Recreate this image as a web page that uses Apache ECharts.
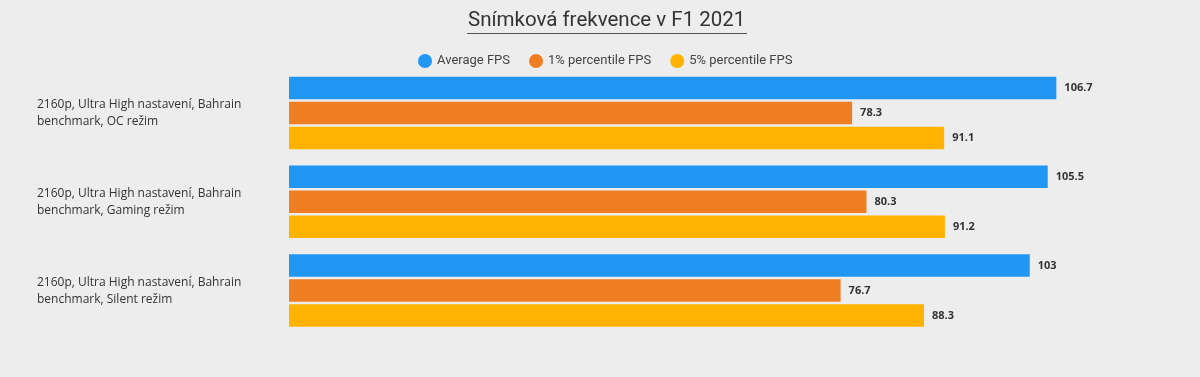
<!DOCTYPE html>
<html>
<head>
<meta charset="utf-8">
<script src="https://cdn.jsdelivr.net/npm/echarts@6/dist/echarts.min.js"></script>
<style>
  html, body { margin: 0; padding: 0; background: #ededed; }
  #chart { width: 1200px; height: 377px; }
</style>
</head>
<body>
<div id="chart"></div>
<script>
// data
let categories = [
  '2160p, Ultra High nastavení, Bahrain benchmark, OC režim',
  '2160p, Ultra High nastavení, Bahrain benchmark, Gaming režim',
  '2160p, Ultra High nastavení, Bahrain benchmark, Silent režim'
];
let avgFps = [106.7, 105.5, 103];
let p1Fps = [78.3, 80.3, 76.7];
let p5Fps = [91.1, 91.2, 88.3];
let seriesNames = ['Average FPS', '1% percentile FPS', '5% percentile FPS'];
let colors = ['#2196f3', '#ef7d22', '#ffb300'];

let chartDom = document.getElementById('chart');
let myChart = echarts.init(chartDom);
let option;

function makeSeries(name, data, color) {
  return {
    name: name,
    type: 'bar',
    data: data,
    barWidth: 22.5,
    barGap: '11%',
    itemStyle: { color: color },
    label: {
      show: true,
      position: 'right',
      distance: 8,
      color: '#333',
      fontWeight: 'bold',
      fontSize: 11,
      fontFamily: 'Open Sans'
    }
  };
}

option = {
  backgroundColor: '#ededed',
  title: {
    text: 'Snímková frekvence v F1 2021',
    left: 463,
    top: 5,
    textStyle: { fontFamily: 'Roboto', fontSize: 20.5, fontWeight: 'normal', color: '#333' }
  },
  graphic: [
    {
      type: 'line',
      shape: { x1: 467, y1: 33.5, x2: 747, y2: 33.5 },
      style: { stroke: '#555', lineWidth: 1 }
    }
  ],
  legend: {
    data: seriesNames,
    top: 49,
    left: 413,
    icon: 'circle',
    itemWidth: 14,
    itemHeight: 14,
    itemGap: 19,
    textStyle: { fontFamily: 'Roboto', fontSize: 13, color: '#444' }
  },
  grid: { left: 289, right: 48, top: 68.5, bottom: 42 },
  xAxis: {
    type: 'value',
    min: 0,
    max: 120,
    show: false
  },
  yAxis: {
    type: 'category',
    data: categories,
    inverse: true,
    axisLine: { show: false },
    axisTick: { show: false },
    axisLabel: {
      align: 'left',
      margin: 252,
      color: '#333',
      fontSize: 12,
      lineHeight: 17,
      fontFamily: 'Open Sans',
      formatter: function (v) { return v.replace('Bahrain ', 'Bahrain\n'); }
    }
  },
  series: [
    makeSeries(seriesNames[0], avgFps, colors[0]),
    makeSeries(seriesNames[1], p1Fps, colors[1]),
    makeSeries(seriesNames[2], p5Fps, colors[2])
  ]
};
option && myChart.setOption(option);
</script>
</body>
</html>
